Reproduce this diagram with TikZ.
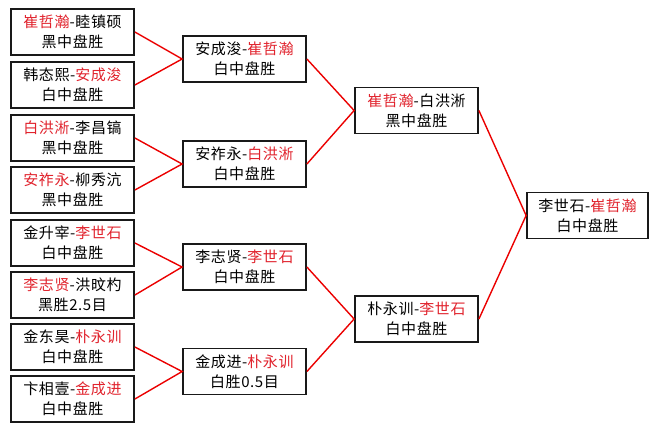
\documentclass[tikz,border=0pt]{standalone}
\usepackage{fontspec}
\newfontfamily\cjk[LetterSpace=4]{Noto Sans CJK SC}
\definecolor{wincol}{RGB}{225,35,45}
\definecolor{linkcol}{RGB}{235,0,0}
\newcommand{\win}[1]{\textcolor{wincol}{#1}}

\begin{document}
\begin{tikzpicture}[x=1pt, y=-1pt,
    game/.style={draw=black!90, line width=1.8pt, fill=white, minimum width=123pt,
      minimum height=46pt, inner sep=0pt, align=center,
      font=\cjk\fontsize{15}{20}\selectfont},
    link/.style={linkcol, line width=1.4pt}]
    \useasboundingbox (0,0) rectangle (660,429);
    % first round
    \node[game] (r1a) at (72.5,32) {\win{崔哲瀚}-睦镇硕\\黑中盘胜};
    \node[game] (r1b) at (72.5,85) {韩态熙-\win{安成浚}\\白中盘胜};
    \node[game] (r1c) at (72.5,138) {\win{白洪淅}-李昌镐\\黑中盘胜};
    \node[game] (r1d) at (72.5,190) {\win{安祚永}-柳秀沆\\黑中盘胜};
    \node[game] (r1e) at (72.5,243) {金升宰-\win{李世石}\\白中盘胜};
    \node[game] (r1f) at (72.5,295) {\win{李志贤}-洪旼杓\\黑胜2.5目};
    \node[game] (r1g) at (72.5,347) {金东昊-\win{朴永训}\\白中盘胜};
    \node[game] (r1h) at (72.5,399) {卞相壹-\win{金成进}\\白中盘胜};
    % second round
    \node[game] (r2a) at (244.5,59) {安成浚-\win{崔哲瀚}\\白中盘胜};
    \node[game] (r2b) at (244.5,164) {安祚永-\win{白洪淅}\\白中盘胜};
    \node[game] (r2c) at (244.5,267) {李志贤-\win{李世石}\\白中盘胜};
    \node[game] (r2d) at (244.5,371.5) {金成进-\win{朴永训}\\白胜0.5目};
    % semi final
    \node[game] (r3a) at (416.5,110.5) {\win{崔哲瀚}-白洪淅\\黑中盘胜};
    \node[game] (r3b) at (416.5,319) {朴永训-\win{李世石}\\白中盘胜};
    % final
    \node[game, minimum width=121pt] (fin) at (587.5,215.5) {李世石-\win{崔哲瀚}\\白中盘胜};
    \draw[link] (r1a.east) -- (r2a.west) -- (r1b.east);
    \draw[link] (r1c.east) -- (r2b.west) -- (r1d.east);
    \draw[link] (r1e.east) -- (r2c.west) -- (r1f.east);
    \draw[link] (r1g.east) -- (r2d.west) -- (r1h.east);
    \draw[link] (r2a.east) -- (r3a.west) -- (r2b.east);
    \draw[link] (r2c.east) -- (r3b.west) -- (r2d.east);
    \draw[link] (r3a.east) -- (fin.west) -- (r3b.east);
\end{tikzpicture}
\end{document}
